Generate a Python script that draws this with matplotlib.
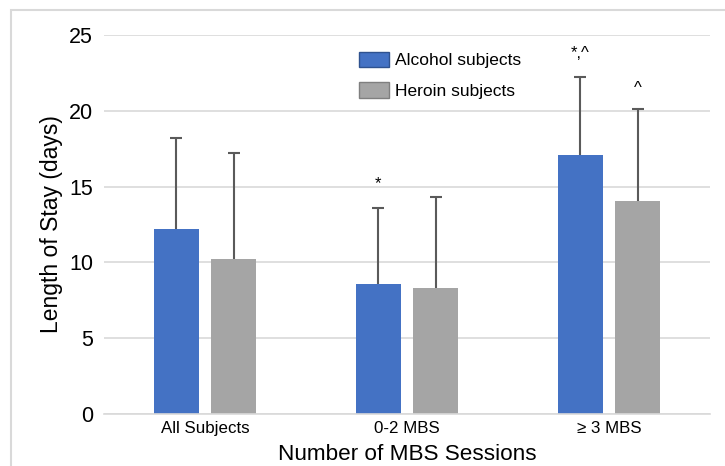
import matplotlib
matplotlib.use("Agg")
import matplotlib.pyplot as plt
import numpy as np
from matplotlib.patches import Rectangle, Patch

plt.rcParams['font.family'] = ['Liberation Sans', 'DejaVu Sans']

categories = ["All Subjects", "0-2 MBS", "\u2265 3 MBS"]
alcohol_mean = [12.2, 8.6, 17.1]
alcohol_sd = [6.0, 5.0, 5.1]
heroin_mean = [10.2, 8.3, 14.05]
heroin_sd = [7.0, 6.0, 6.05]
alcohol_marks = ["", "*", "*,^"]
heroin_marks = ["", "", "^"]
yticks = [0, 5, 10, 15, 20, 25]

blue = "#4472C4"
gray = "#A5A5A5"
errc = "#5A5A5A"

fig = plt.figure(figsize=(7.25, 4.66), dpi=100)
ax = fig.add_axes([104/725, 52/466, (710-104)/725, (414-35)/466])

x = np.arange(len(categories))
w = 0.223
off = 0.143
ax.bar(x - off, alcohol_mean, w, color=blue, zorder=2)
ax.bar(x + off, heroin_mean, w, color=gray, zorder=2)
for xs, m, sd in [(x - off, alcohol_mean, alcohol_sd), (x + off, heroin_mean, heroin_sd)]:
    _, caps, _ = ax.errorbar(xs, m, yerr=[np.zeros(3), sd], fmt='none',
                             ecolor=errc, elinewidth=1.5, capsize=4, capthick=1.5, zorder=3)
    caps[0].set_visible(False)

for i in range(3):
    if alcohol_marks[i]:
        ax.text(x[i] - off, alcohol_mean[i] + alcohol_sd[i] + 1.1, alcohol_marks[i],
                ha='center', va='bottom', fontsize=12)
    if heroin_marks[i]:
        ax.text(x[i] + off, heroin_mean[i] + heroin_sd[i] + 0.9, heroin_marks[i],
                ha='center', va='bottom', fontsize=12)

ax.set_xlim(-0.5, 2.5)
ax.set_ylim(0, 25)
ax.set_yticks(yticks)
ax.set_xticks(x)
ax.set_xticklabels(categories, fontsize=12.2)
ax.tick_params(axis='y', length=0, pad=8, labelsize=15.5)
ax.tick_params(axis='x', length=0, pad=5)
ax.grid(axis='y', color='#D9D9D9', linewidth=1.2, zorder=0)
ax.set_axisbelow(True)
for s in ['top', 'right', 'left']:
    ax.spines[s].set_visible(False)
ax.spines['bottom'].set_color('#D9D9D9')
ax.spines['bottom'].set_linewidth(1.2)

ax.set_ylabel("Length of Stay (days)", fontsize=16.5, labelpad=4)
ax.set_xlabel("Number of MBS Sessions", fontsize=16.2, labelpad=6)

handles = [Patch(facecolor=blue, edgecolor='#2F528F', label='Alcohol subjects'),
           Patch(facecolor=gray, edgecolor='#7F7F7F', label='Heroin subjects')]
leg = ax.legend(handles=handles, loc='upper left', bbox_to_anchor=((343-104)/606, (414-36)/379),
                frameon=False, fontsize=12.5, handlelength=1.75, handleheight=1.0,
                labelspacing=0.8, handletextpad=0.35)

fig.patches.append(Rectangle((11/725, -0.1), 1.2, (466-10)/466 + 0.1, transform=fig.transFigure,
                             fill=False, edgecolor='#D9D9D9', linewidth=1.5))

fig.savefig("out.png", dpi=100)
